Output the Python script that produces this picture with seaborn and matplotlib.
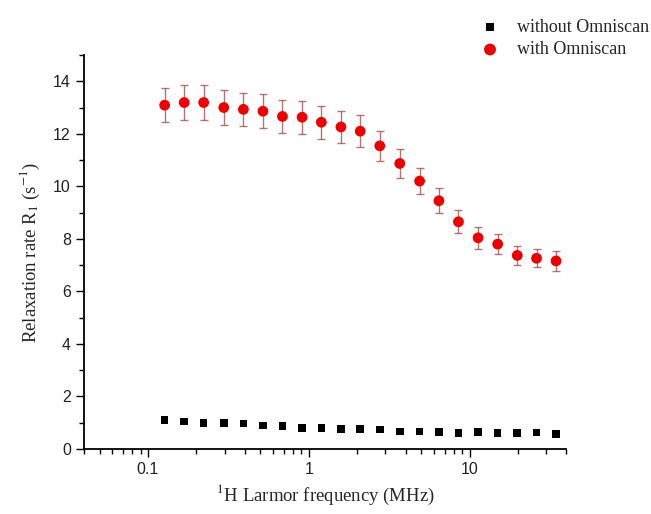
import matplotlib
matplotlib.use('Agg')
import matplotlib.pyplot as plt
import matplotlib.ticker as mticker
import numpy as np
import pandas as pd
import seaborn as sns

# Larmor frequency (MHz)
freq = [0.127, 0.168, 0.222, 0.296, 0.392, 0.519, 0.686, 0.909, 1.197, 1.585,
        2.089, 2.765, 3.68, 4.89, 6.45, 8.53, 11.3, 14.96, 19.8, 26.1, 34.5]
# R1 without contrast agent
r1_without = [1.10, 1.04, 0.99, 0.99, 0.97, 0.90, 0.88, 0.80, 0.79, 0.76, 0.76,
              0.74, 0.66, 0.66, 0.64, 0.61, 0.64, 0.61, 0.61, 0.62, 0.58]
# R1 with Omniscan and its error
r1_with = [13.09, 13.19, 13.19, 13.00, 12.93, 12.86, 12.66, 12.63, 12.44, 12.26, 12.10,
           11.54, 10.87, 10.20, 9.45, 8.65, 8.04, 7.80, 7.37, 7.26, 7.16]
r1_with_err = [0.65, 0.66, 0.66, 0.65, 0.64, 0.64, 0.62, 0.62, 0.62, 0.61, 0.60,
               0.57, 0.55, 0.50, 0.48, 0.44, 0.41, 0.39, 0.37, 0.35, 0.37]

df = pd.DataFrame({'freq': freq, 'without': r1_without, 'with': r1_with, 'err': r1_with_err})

sns.set_style('ticks')
plt.rcParams['font.family'] = ['Liberation Serif', 'DejaVu Serif']
plt.rcParams['mathtext.fontset'] = 'stix'

fig = plt.figure(figsize=(6.51, 5.14), dpi=100)
ax = fig.add_axes([0.129, 0.1265, 0.741, 0.7665])

ax.errorbar(df['freq'], df['with'], yerr=df['err'], fmt='none', ecolor='#a04545',
            elinewidth=1.0, capsize=3, capthick=1.0, alpha=0.75, zorder=1)
sns.scatterplot(data=df, x='freq', y='without', marker='s', color='black', s=30,
                edgecolor='none', label='without Omniscan', ax=ax, zorder=3)
sns.scatterplot(data=df, x='freq', y='with', marker='o', color='#ec0000', s=60,
                edgecolor='none', label='with Omniscan', ax=ax, zorder=3)

ax.set_xscale('log')
ax.set_xlim(0.04, 40)
ax.set_ylim(0, 15)
ax.yaxis.set_major_locator(mticker.MultipleLocator(2))
ax.yaxis.set_minor_locator(mticker.MultipleLocator(1))
ax.xaxis.set_major_locator(mticker.FixedLocator([0.1, 1, 10]))
ax.xaxis.set_major_formatter(mticker.FixedFormatter(['0.1', '1', '10']))
ax.xaxis.set_minor_locator(mticker.LogLocator(base=10, subs=np.arange(2, 10), numticks=20))
ax.xaxis.set_minor_formatter(mticker.NullFormatter())

ax.tick_params(which='major', direction='out', length=6, width=1, labelsize=11.5, color='black')
ax.tick_params(which='minor', direction='out', length=3.5, width=1, color='black')
for lbl in ax.get_xticklabels() + ax.get_yticklabels():
    lbl.set_family('Liberation Sans')
    lbl.set_color('#222222')

sns.despine(ax=ax)
for sp in ['left', 'bottom']:
    ax.spines[sp].set_linewidth(1.3)
    ax.spines[sp].set_color('black')

ax.set_xlabel('$^{1}$H Larmor frequency (MHz)', fontsize=13.5, labelpad=4)
ax.set_ylabel('Relaxation rate R$_{1}$ (s$^{-1}$)', fontsize=13.5, labelpad=8)

ax.legend_.remove()
handles, labels = ax.get_legend_handles_labels()
fig.legend(handles, labels, loc='upper left', bbox_to_anchor=(0.70, 0.995), frameon=False,
           fontsize=13, handletextpad=0.5, labelspacing=0.3, markerscale=1.1)

fig.savefig('out.png', dpi=100)
